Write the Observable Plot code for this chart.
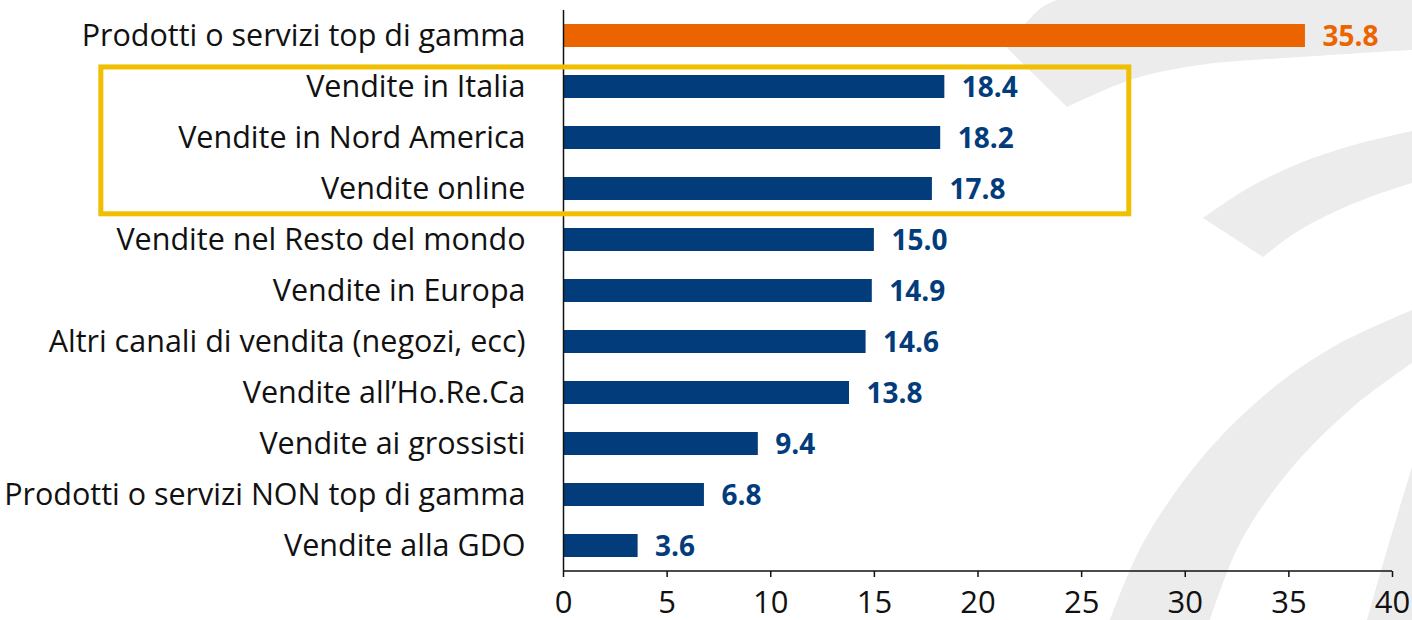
<!DOCTYPE html>
<html>
<head>
<meta charset="utf-8">
<script src="https://cdn.jsdelivr.net/npm/d3@7"></script>
<script src="https://cdn.jsdelivr.net/npm/@observablehq/plot@0.6"></script>
<style>
  html, body { margin: 0; padding: 0; background: #fff; }
  #chart svg { display: block; }
</style>
</head>
<body>
<div id="chart"></div>
<script>
// ---- data ----
const categories = [
  "Prodotti o servizi top di gamma",
  "Vendite in Italia",
  "Vendite in Nord America",
  "Vendite online",
  "Vendite nel Resto del mondo",
  "Vendite in Europa",
  "Altri canali di vendita (negozi, ecc)",
  "Vendite all’Ho.Re.Ca",
  "Vendite ai grossisti",
  "Prodotti o servizi NON top di gamma",
  "Vendite alla GDO"
];
const values = [35.8, 18.4, 18.2, 17.8, 15.0, 14.9, 14.6, 13.8, 9.4, 6.8, 3.6];
const xTicks = [0, 5, 10, 15, 20, 25, 30, 35, 40];
const highlightCategory = "Prodotti o servizi top di gamma";
const boxedCategories = ["Vendite in Italia", "Vendite in Nord America", "Vendite online"];
const boxXExtent = [-22.3, 27.3];

(function () {
  // ---- style ----
  const NAVY = "#023C7A";
  const ORANGE = "#EC6400";
  const BOX = "#EFBF00";
  const WATERMARK = "#ECECEC";
  const FONT = "'Open Sans', sans-serif";

  const data = categories.map((c, i) => ({category: c, value: values[i]}));
  const colorOf = d => d.category === highlightCategory ? ORANGE : NAVY;

  const W = 1412, H = 620, mL = 563, mR = 20, mT = 10, mB = 49;

  const chart = Plot.plot({
    width: W, height: H,
    marginLeft: mL, marginRight: mR, marginTop: mT, marginBottom: mB,
    style: {fontFamily: FONT, background: "transparent", overflow: "visible", color: "#111"},
    x: {domain: [0, 40], label: null},
    y: {domain: categories, paddingInner: 0.55, paddingOuter: 0.275, label: null},
    color: {type: "identity"},
    marks: [
      Plot.barX(data, {x: "value", y: "category", fill: colorOf}),
      Plot.text(data, {
        x: "value", y: "category", text: d => d.value.toFixed(1),
        dx: 17, dy: 1, textAnchor: "start", fill: colorOf,
        fontWeight: "bold", fontSize: 28
      }),
      Plot.ruleX([0], {stroke: "#111", strokeWidth: 1.5}),
      Plot.axisX({ticks: xTicks, tickSize: 6, tickPadding: 13, fontSize: 31, strokeWidth: 1.5, label: null}),
      Plot.axisY({tickSize: 0, tickPadding: 38, fontSize: 30.5, label: null})
    ]
  });

  document.getElementById("chart").appendChild(chart);

  // ---- derived annotations from scales ----
  const xs = chart.scale("x");
  const ys = chart.scale("y");
  const svg = d3.select(chart);

  // x axis baseline
  svg.append("line")
    .attr("x1", xs.apply(0)).attr("x2", xs.apply(40))
    .attr("y1", H - mB).attr("y2", H - mB)
    .attr("stroke", "#111").attr("stroke-width", 1.5);

  // highlight box
  const by0 = ys.apply(boxedCategories[0]) - ys.bandwidth * 0.35;
  const by1 = ys.apply(boxedCategories[boxedCategories.length - 1]) + ys.bandwidth * 1.6;
  svg.append("rect")
    .attr("x", xs.apply(boxXExtent[0])).attr("width", xs.apply(boxXExtent[1]) - xs.apply(boxXExtent[0]))
    .attr("y", by0).attr("height", by1 - by0)
    .attr("fill", "none").attr("stroke", BOX).attr("stroke-width", 5);

  // background watermark (decorative arcs)
  const curve = d3.line().curve(d3.curveCatmullRom.alpha(0.5));
  function band(edgeA, edgeB) {
    const a = curve(edgeA);
    const b = curve(edgeB.slice().reverse());
    return a + "L" + b.slice(1) + "Z";
  }
  const arcs = [
    band([[1007, 48], [1025, 24], [1057, 0], [1412, 0]], [[1067, 107], [1133, 79], [1200, 65], [1300, 57], [1412, 50]]),
    band([[1203, 218], [1250, 187], [1300, 163], [1350, 146], [1412, 131]], [[1263, 257], [1295, 233], [1330, 214], [1370, 197], [1412, 183]]),
    band([[1110, 620], [1143, 543], [1200, 460], [1267, 393], [1333, 347], [1412, 310]], [[1210, 620], [1240, 543], [1290, 470], [1353, 407], [1412, 363]]),
    band([[1367, 620], [1387, 550], [1412, 467]], [[1412, 620], [1412, 620]])
  ];
  const g = svg.insert("g", ":first-child");
  g.selectAll("path").data(arcs).join("path").attr("d", d => d).attr("fill", WATERMARK);
})();
</script>
</body>
</html>
